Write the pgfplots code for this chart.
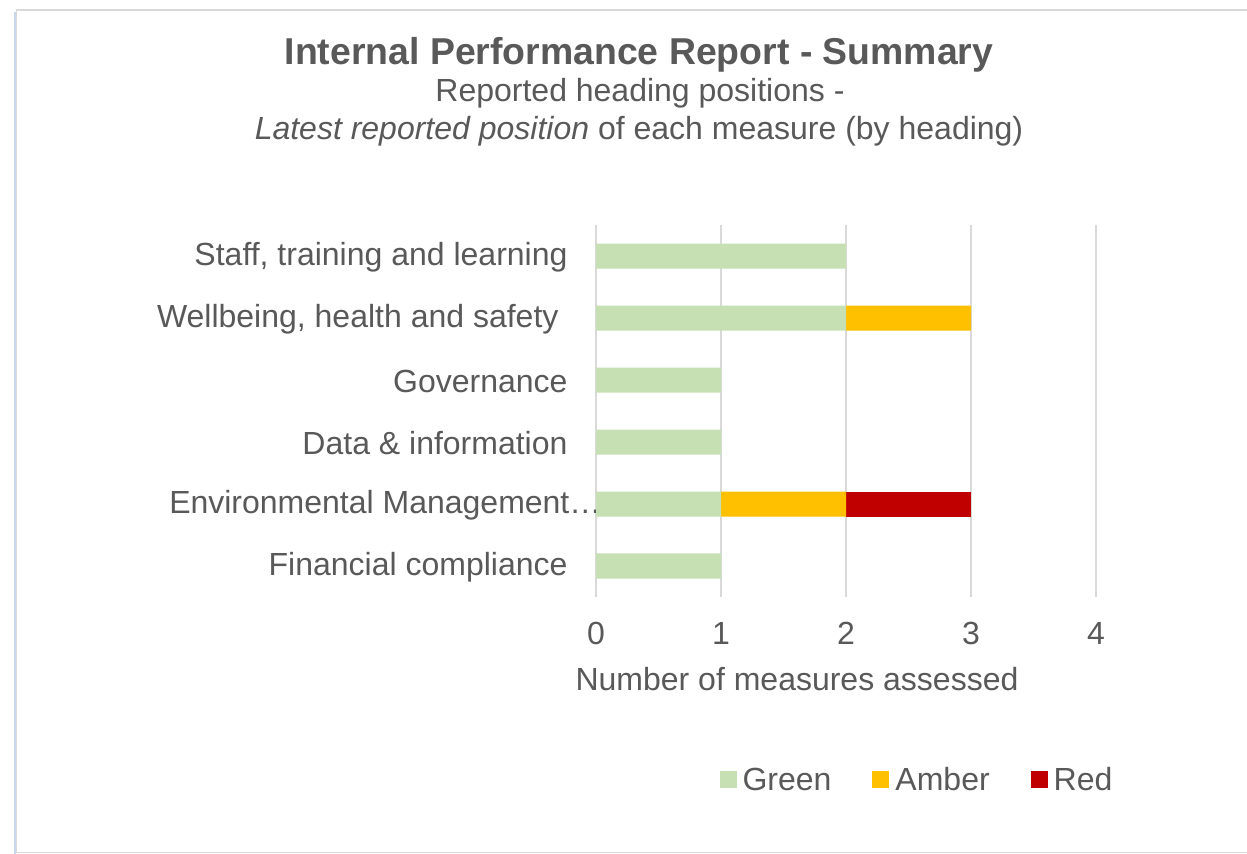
\documentclass[border=0pt]{standalone}
\usepackage{pgfplots}
\pgfplotsset{compat=1.18}
\usepackage{fontspec}
\setmainfont{Liberation Sans}
\definecolor{tgray}{HTML}{595959}
\definecolor{ggrid}{HTML}{D9D9D9}
\definecolor{cgreen}{HTML}{C6E0B4}
\definecolor{camber}{HTML}{FFC000}
\definecolor{cred}{HTML}{C00000}
\definecolor{framec}{HTML}{D9D9D9}
\definecolor{shadowc}{HTML}{C9D7EC}
\newcommand{\lbl}{\fontsize{32bp}{38bp}\selectfont}
\pgfplotsset{sq/.style={legend image code/.code={\fill[##1] (0bp,-8.5bp) rectangle (17bp,8.5bp);}}}

\begin{document}
\begin{tikzpicture}
\useasboundingbox (0,0) rectangle (1247bp,854bp);
\fill[white] (0,0) rectangle (1247bp,854bp);
\draw[shadowc, line width=2bp] (14.5bp,0) -- (14.5bp,842bp);
\draw[framec, line width=1.5bp] (1260bp,844bp) -- (16.5bp,844bp) -- (16.5bp,1.5bp) -- (1260bp,1.5bp);
\node[anchor=base, text=tgray, font=\fontsize{37.4bp}{44bp}\selectfont\bfseries] at (639bp,789bp) {Internal Performance Report - Summary};
\node[anchor=base, text=tgray, font=\lbl] at (640bp,752bp) {Reported heading positions -};
\node[anchor=base, text=tgray, font=\lbl] at (639bp,714.7bp) {\textit{Latest reported position} of each measure (by heading)};
\begin{axis}[
  at={(596bp,257bp)}, anchor=south west, scale only axis,
  width=500bp, height=372bp,
  xbar stacked, bar width=25bp,
  xmin=0, xmax=4, ymin=-0.5, ymax=5.5,
  xtick={0,1,2,3,4}, ytick={0,1,2,3,4,5},
  yticklabels={Financial compliance, {Environmental Management…\hspace*{-34bp}}, Data \& information, Governance, {Wellbeing, health and safety\hspace*{9bp}}, {Staff, training and learning}},
  xmajorgrids, grid style={ggrid, line width=1.5bp},
  axis line style={draw=none}, major tick style={draw=none},
  tick label style={font=\lbl, text=tgray},
  /pgf/number format/assume math mode=true,
  xticklabel style={yshift=-22bp},
  yticklabel style={xshift=-25bp, yshift=-1.5bp},
  xlabel={Number of measures assessed},
  xlabel style={at={(axis description cs:0.402,-0.25)}, anchor=base, font=\lbl, text=tgray},
  legend style={at={(axis description cs:0.641,-0.491)}, anchor=center, draw=none, fill=none,
    legend columns=3, font=\lbl, text=tgray, nodes={inner sep=1bp},
    /tikz/every odd column/.append style={column sep=5bp},
    /tikz/every even column/.append style={column sep=40bp}},
]
\addplot[fill=cgreen, draw=none, sq] coordinates {(1,0) (1,1) (1,2) (1,3) (2,4) (2,5)};
\addplot[fill=camber, draw=none, sq] coordinates {(0,0) (1,1) (0,2) (0,3) (1,4) (0,5)};
\addplot[fill=cred, draw=none, sq] coordinates {(0,0) (1,1) (0,2) (0,3) (0,4) (0,5)};
\legend{Green, Amber, Red}
\end{axis}
\end{tikzpicture}
\end{document}
